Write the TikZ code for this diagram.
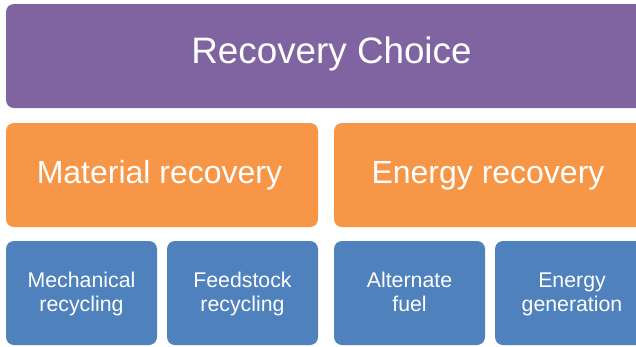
\documentclass[tikz,border=0pt]{standalone}
\usepackage{fontspec}
\setmainfont{Liberation Sans}
\definecolor{cpurple}{HTML}{8064A2}
\definecolor{corange}{HTML}{F79646}
\definecolor{cblue}{HTML}{4F81BD}
\tikzset{
  box/.style={rounded corners=8pt, draw=none},
  pbox/.style={box, fill=cpurple},
  obox/.style={box, fill=corange},
  bbox/.style={box, fill=cblue},
  lab/.style={text=white, inner sep=0pt, anchor=base},
  bigtxt/.style={lab, font=\fontsize{36.8}{40}\selectfont},
  midtxt/.style={lab, font=\fontsize{32}{36}\selectfont},
  smalltxt/.style={lab, font=\fontsize{21.3}{24}\selectfont},
}
\begin{document}
\begin{tikzpicture}[x=1pt,y=-1pt]
\useasboundingbox (0,0) rectangle (636,346);
\clip (0,0) rectangle (636,346);
% boxes
\path[pbox] (6,4) rectangle (662,108);
\path[obox] (6,123) rectangle (318,227);
\path[obox] (334,123) rectangle (650,227);
\path[bbox] (6,241) rectangle (157,345);
\path[bbox] (167,241) rectangle (318,345);
\path[bbox] (334,241) rectangle (485,345);
\path[bbox] (495,241) rectangle (646,345);
% labels
\node[bigtxt] (rc) at (331.5,63) {Recovery Choice};
\node[midtxt] (mr) at (159.5,183) {Material recovery};
\node[midtxt] (er) at (488,183) {Energy recovery};
\node[smalltxt] (m1) at (81.5,287) {Mechanical};
\node[smalltxt] (m2) at (81.5,311) {recycling};
\node[smalltxt] (f1) at (242.5,287) {Feedstock};
\node[smalltxt] (f2) at (242.5,311) {recycling};
\node[smalltxt] (a1) at (409.5,287) {Alternate};
\node[smalltxt] (a2) at (409.5,311) {fuel};
\node[smalltxt] (g1) at (572,287) {Energy};
\node[smalltxt] (g2) at (572,311) {generation};
\end{tikzpicture}
\end{document}
